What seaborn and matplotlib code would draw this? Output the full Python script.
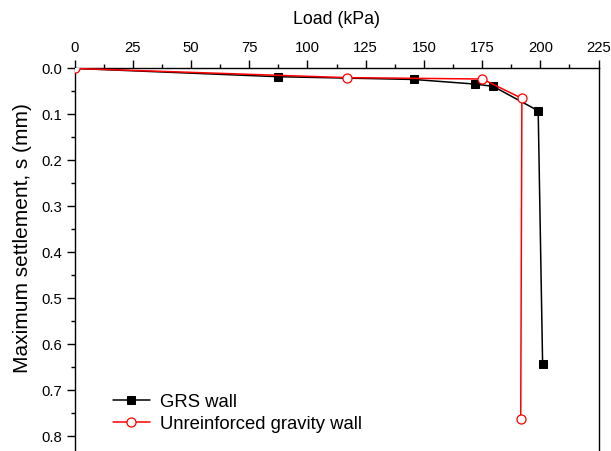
import matplotlib
matplotlib.use("Agg")
import matplotlib.pyplot as plt
import seaborn as sns
import pandas as pd
from matplotlib.ticker import MultipleLocator

grs_load = [0, 87.5, 145.8, 172.0, 179.8, 199.1, 201.0]
grs_settle = [0.002, 0.020, 0.026, 0.036, 0.041, 0.094, 0.643]
unr_load = [0, 116.9, 175.1, 192.1, 191.6]
unr_settle = [0.002, 0.022, 0.025, 0.067, 0.763]
x_ticks = [0, 25, 50, 75, 100, 125, 150, 175, 200, 225]
y_ticks = [0.0, 0.1, 0.2, 0.3, 0.4, 0.5, 0.6, 0.7, 0.8]

sns.set_theme(style="white")
plt.rcParams['font.family'] = ['Liberation Sans', 'DejaVu Sans']
plt.rcParams['text.color'] = 'black'
plt.rcParams['axes.labelcolor'] = 'black'
plt.rcParams['xtick.color'] = 'black'
plt.rcParams['ytick.color'] = 'black'

fig = plt.figure(figsize=(6.11, 4.52), dpi=100)
ax = fig.add_axes([74.5/611, -31/452, 524/611, (483-68.5)/452])

df1 = pd.DataFrame({"x": grs_load, "y": grs_settle})
df2 = pd.DataFrame({"x": unr_load, "y": unr_settle})

sns.lineplot(data=df1, x="x", y="y", sort=False, estimator=None, ax=ax,
             color="black", lw=1.1, marker="s", markersize=5.5,
             markerfacecolor="black", markeredgecolor="black",
             markevery=list(range(1, len(grs_load))),
             label="GRS wall", zorder=3)
sns.lineplot(data=df2, x="x", y="y", sort=False, estimator=None, ax=ax,
             color="#ff0000", lw=1.1, marker="o", markersize=6.5,
             markerfacecolor="white", markeredgecolor="#ff0000", markeredgewidth=0.9,
             label="Unreinforced gravity wall", zorder=4)

ax.set_xlim(0, 225)
ax.set_ylim(0.9, 0)
ax.xaxis.tick_top()
ax.xaxis.set_label_position('top')
ax.set_xticks(x_ticks)
ax.set_xticklabels([str(t) for t in x_ticks])
ax.set_yticks(y_ticks)
ax.set_yticklabels([f"{t:.1f}" for t in y_ticks])
ax.xaxis.set_minor_locator(MultipleLocator(12.5))
ax.yaxis.set_minor_locator(MultipleLocator(0.05))
ax.tick_params(which='major', direction='out', length=5.5, width=1, color='black',
               labelcolor='black', labelsize=10.7,
               top=True, left=True, bottom=False, right=False)
ax.tick_params(axis='x', which='major', pad=4.5)
ax.tick_params(axis='y', which='major', pad=3.5)
ax.tick_params(which='minor', direction='out', length=3, width=1, color='black',
               top=True, left=True, bottom=False, right=False)
ax.set_xlabel("Load (kPa)", fontsize=12.8, labelpad=12, color='black')
ax.set_ylabel("Maximum settlement, s (mm)", fontsize=15, color='black')
ax.yaxis.set_label_coords((32 - 74.5)/524, (483 - 238)/414.5)
for s in ax.spines.values():
    s.set_color('black')
    s.set_linewidth(1.0)
ax.grid(False)

leg = ax.legend(loc='upper left', bbox_to_anchor=(38.5/524, (483-394)/414.5),
                frameon=False, fontsize=13.3, handlelength=2.0, handletextpad=0.55,
                labelspacing=0.28, borderaxespad=0, borderpad=0)
for t in leg.get_texts():
    t.set_color('black')

fig.savefig("out.png", dpi=100, facecolor='white')
